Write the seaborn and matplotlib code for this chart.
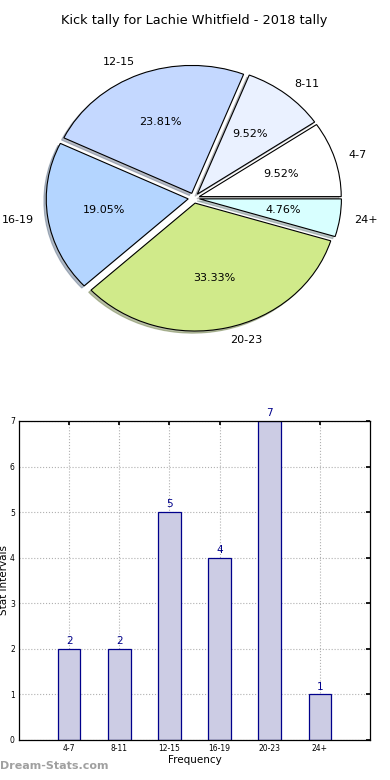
"""Kick tally pie and bar chart for one player."""

import matplotlib
matplotlib.use("Agg")
import matplotlib.pyplot as plt
import pandas as pd
import seaborn as sns


TITLE = "Kick tally for Lachie Whitfield - 2018 tally"
INTERVALS = ["4-7", "8-11", "12-15", "16-19", "20-23", "24+"]
COUNTS = [2, 2, 5, 4, 7, 1]
PIE_COLOURS = ["#ffffff", "#eaf1ff", "#c4d8ff", "#b4d5ff", "#d0ea8a", "#d8ffff"]
BAR_FILL = "#ccccE4"
BAR_EDGE = "#00008b"


def draw_pie(ax):
    ax.pie(
        COUNTS,
        labels=INTERVALS,
        colors=PIE_COLOURS,
        explode=[0.04] * len(COUNTS),
        autopct="%.2f%%",
        shadow={"ox": -0.012, "oy": -0.012, "shade": 0.45},
        startangle=0,
        wedgeprops={"edgecolor": "black", "linewidth": 0.8},
        textprops={"fontsize": 8, "color": "black"},
    )
    ax.set_aspect("auto")
    ax.set_xlim(-1.25, 1.25)
    ax.set_ylim(-1.25, 1.25)
    ax.set_title(TITLE, fontsize=9.3, pad=10, color="black")


def draw_bars(ax):
    table = pd.DataFrame({"interval": INTERVALS, "count": COUNTS})
    sns.barplot(
        data=table,
        x="interval",
        y="count",
        color=BAR_FILL,
        saturation=1,
        width=0.45,
        edgecolor=BAR_EDGE,
        linewidth=0.9,
        ax=ax,
        zorder=2,
    )
    for bar, value in zip(ax.patches, COUNTS):
        ax.annotate(
            str(value),
            (bar.get_x() + bar.get_width() / 2, bar.get_height()),
            xytext=(0, 2),
            textcoords="offset points",
            ha="center",
            va="bottom",
            color=BAR_EDGE,
            fontsize=7.5,
            annotation_clip=False,
        )
    ax.set_xlim(-1, 6)
    ax.set_ylim(0, 7)
    ax.set_yticks(range(8))
    ax.set_xlabel("Frequency", fontsize=7.5, labelpad=1, color="black")
    ax.set_ylabel("Stat Intervals", fontsize=7.5, labelpad=1, color="black")
    ax.tick_params(direction="in", top=True, right=True, labelsize=5.5,
                   length=3, pad=3, colors="black")
    ax.grid(True, color="#b0b0b0", linestyle=":", linewidth=0.8, zorder=0)
    for spine in ax.spines.values():
        spine.set_color("black")
        spine.set_linewidth(0.9)


def main():
    sns.set_theme(style="white")
    plt.rcParams["font.family"] = ["DejaVu Sans"]
    plt.rcParams["text.color"] = "black"
    figure = plt.figure(figsize=(3.9, 7.8), dpi=100)
    pie_ax = figure.add_axes([0.042, 0.541, 0.91, 0.41])
    bar_ax = figure.add_axes([0.0487, 0.0513, 0.9, 0.409])
    draw_pie(pie_ax)
    draw_bars(bar_ax)
    figure.text(0.0, 0.012, "Dream-Stats.com", fontsize=8, color="#a0a0a0",
                fontweight="bold", ha="left", va="bottom")
    figure.savefig("out.png", dpi=100)
    plt.close(figure)


if __name__ == "__main__":
    main()
